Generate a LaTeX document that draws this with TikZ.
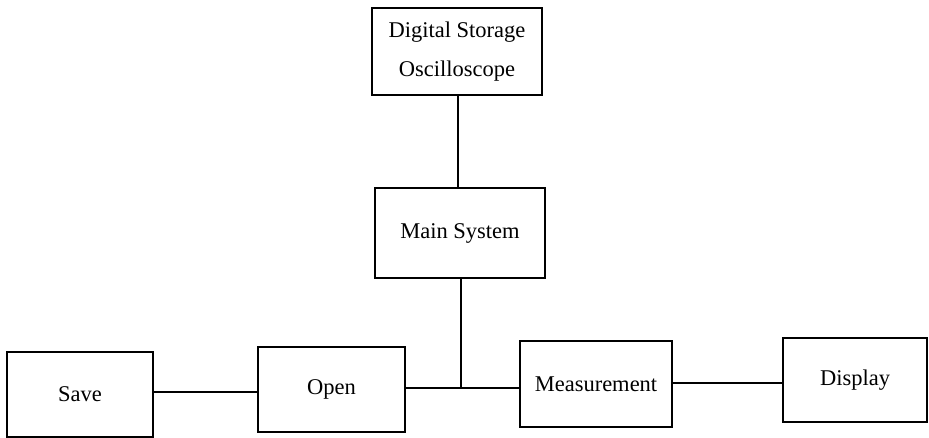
\documentclass[tikz,border=0pt]{standalone}
\usepackage{fontspec}
\setmainfont{Liberation Serif}
\begin{document}
\begin{tikzpicture}[x=1pt,y=-1pt,
  block/.style={draw, line width=1.6pt, inner sep=0pt, align=center,
    font=\fontsize{22.5}{39}\selectfont},
  link/.style={line width=1.6pt}]
\useasboundingbox (0,0) rectangle (929,438);
\node[block, minimum width=170pt, minimum height=87pt] (dso) at (457,51.5)
  {Digital Storage\\Oscilloscope};
\node[block, minimum width=170pt, minimum height=90pt] (main) at (460,233) {Main System};
\node[block, minimum width=146pt, minimum height=85pt] (save) at (80,394.5) {Save};
\node[block, minimum width=147pt, minimum height=85pt] (open) at (331.5,389.5) {Open};
\node[block, minimum width=152pt, minimum height=86pt] (meas) at (596,384) {Measurement};
\node[block, minimum width=144pt, minimum height=84pt] (disp) at (855,380) {Display};
% guide points for straight connectors
\coordinate (upx) at (458,0);
\coordinate (lowx) at (461,0);
\coordinate (row1) at (0,392);
\coordinate (row2) at (0,388);
\coordinate (row3) at (0,383);
\coordinate (junc) at (461,388);
\draw[link] (dso.south -| upx) -- (main.north -| upx);
\draw[link] (main.south -| lowx) -- (junc);
\draw[link] (save.east |- row1) -- (open.west |- row1);
\draw[link] (open.east |- row2) -- (junc) -- (meas.west |- row2);
\draw[link] (meas.east |- row3) -- (disp.west |- row3);
\end{tikzpicture}
\end{document}
